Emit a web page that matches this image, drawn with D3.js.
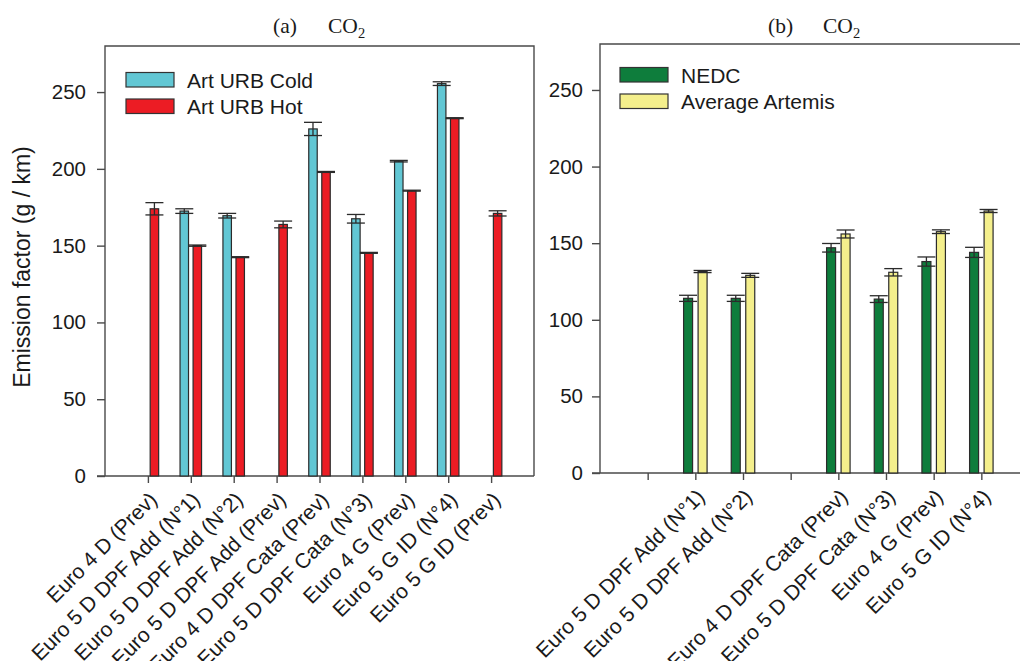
<!DOCTYPE html>
<html>
<head>
<meta charset="utf-8">
<script src="https://cdn.jsdelivr.net/npm/d3@7"></script>
<style>
  html, body { margin: 0; padding: 0; background: #fff; }
  svg { display: block; }
  text { font-family: "Liberation Sans", Arial, sans-serif; fill: #1a1a1a; }
</style>
</head>
<body>
<div id="chart"></div>
<script>
// panel (a) data
const leftCats = ["Euro 4 D (Prev)", "Euro 5 D DPF Add (N°1)", "Euro 5 D DPF Add (N°2)", "Euro 5 D DPF Add (Prev)",
    "Euro 4 D DPF Cata (Prev)", "Euro 5 D DPF Cata (N°3)", "Euro 4 G (Prev)", "Euro 5 G ID (N°4)", "Euro 5 G ID (Prev)"];
const coldVals = [null, 172.5, 169.5, null, 226, 167.5, 205, 255.5, null];
const coldErr  = [null, 1.5, 1.5, null, 4.3, 2.8, 0.5, 1.2, null];
const hotVals  = [174, 150, 142.5, 163.8, 198, 145.3, 185.8, 233, 171];
const hotErr   = [4, 0.4, 0.3, 2.2, 0.3, 0.3, 0.3, 0.3, 1.7];

// panel (b) data
const rightCats = ["", "Euro 5 D DPF Add (N°1)", "Euro 5 D DPF Add (N°2)", "",
    "Euro 4 D DPF Cata (Prev)", "Euro 5 D DPF Cata (N°3)", "Euro 4 G (Prev)", "Euro 5 G ID (N°4)"];
const nedcVals = [null, 114, 114, null, 147, 113.5, 138, 144];
const nedcErr  = [null, 2, 2, null, 2.8, 2.2, 3, 3.3];
const artVals  = [null, 131.5, 129, null, 156, 131, 157.5, 171];
const artErr   = [null, 0.7, 1.3, null, 2.6, 2.4, 1.2, 1];

const yTicks = [0, 50, 100, 150, 200, 250];

const W = 1020, H = 661;
const svg = d3.select("#chart").append("svg").attr("width", W).attr("height", H);

function drawPanel(o) {
    const g = svg.append("g");
    const x = d3.scalePoint().domain(d3.range(o.cats.length)).range([o.left, o.right]).padding(1);
    const y = d3.scaleLinear().domain([0, 280]).range([o.bottom, o.top]);
    const sub = d3.scaleBand().domain([0, 1]).range([-o.half, o.half]).paddingInner(o.pad);

    // frame
    g.append("path")
        .attr("d", `M${o.left},${o.bottom}V${o.top}H${o.right}V${o.bottom}`)
        .attr("fill", "none").attr("stroke", "#4a4a4a").attr("stroke-width", 1.4);
    g.append("line").attr("x1", o.left - 8).attr("x2", o.right).attr("y1", o.bottom).attr("y2", o.bottom)
        .attr("stroke", "#4a4a4a").attr("stroke-width", 1.4);

    // y axis
    const ya = g.append("g").attr("transform", `translate(${o.left},0)`)
        .call(d3.axisLeft(y).tickValues(yTicks).tickSize(8).tickPadding(o.tickPad));
    ya.select(".domain").remove();
    ya.selectAll("line").attr("stroke", "#4a4a4a").attr("stroke-width", 1.4);
    ya.selectAll("text").attr("font-size", 20.5).attr("fill", "#1a1a1a")
        .style("font-family", '"Liberation Sans", Arial, sans-serif');

    // x axis
    const xa = g.append("g").attr("transform", `translate(0,${o.bottom})`)
        .call(d3.axisBottom(x).tickSize(7).tickFormat(i => o.cats[i]));
    xa.select(".domain").remove();
    xa.selectAll("line").attr("stroke", "#4a4a4a").attr("stroke-width", 1.4);
    xa.selectAll("text").attr("font-size", 21).attr("fill", "#1a1a1a")
        .style("font-family", '"Liberation Sans", Arial, sans-serif')
        .attr("x", 0).attr("y", 0).attr("dy", 0)
        .attr("text-anchor", "end")
        .attr("transform", "translate(10,25) rotate(-45)");

    // bars + error bars
    o.series.forEach((s, k) => {
        const items = s.vals.map((v, i) => ({i, v, e: s.errs[i]})).filter(d => d.v != null);
        const cx = d => x(d.i) + sub(k) + sub.bandwidth() / 2;
        g.append("g").selectAll("rect").data(items).join("rect")
            .attr("x", d => x(d.i) + sub(k))
            .attr("width", sub.bandwidth())
            .attr("y", d => y(d.v))
            .attr("height", d => y(0) - y(d.v))
            .attr("fill", s.color).attr("stroke", "#2b2b2b").attr("stroke-width", 1.2);
        const eb = g.append("g").attr("stroke", "#2b2b2b").attr("stroke-width", 1.3);
        eb.selectAll(".v").data(items).join("line").attr("class", "v")
            .attr("x1", cx).attr("x2", cx)
            .attr("y1", d => y(d.v + d.e)).attr("y2", d => y(d.v - d.e));
        [1, -1].forEach(sg => {
            eb.selectAll(".c" + sg).data(items).join("line").attr("class", "c" + sg)
                .attr("x1", d => cx(d) - 9).attr("x2", d => cx(d) + 9)
                .attr("y1", d => y(d.v + sg * d.e)).attr("y2", d => y(d.v + sg * d.e));
        });
    });

    // legend
    const lg = g.append("g").attr("transform", `translate(${o.legX},${o.legY})`);
    o.series.forEach((s, k) => {
        lg.append("rect").attr("x", 0).attr("y", k * 26.5).attr("width", 48).attr("height", 14.5)
            .attr("fill", s.color).attr("stroke", "#333").attr("stroke-width", 1.2);
        lg.append("text").attr("x", 61).attr("y", k * 26.5 + 7.5).attr("dy", "0.36em")
            .attr("font-size", 21).text(s.name);
    });

    // title
    const t = g.append("text").attr("y", 33)
        .style("font-family", '"Liberation Serif", "Times New Roman", serif').attr("font-size", 21.5);
    t.append("tspan").attr("x", o.titleX).text(o.tag);
    t.append("tspan").attr("x", o.titleX + 55).text("CO");
    t.append("tspan").attr("font-size", 14.5).attr("dy", 5).text("2");
    return g;
}

drawPanel({
    cats: leftCats, left: 105, right: 534, top: 46, bottom: 476, half: 10.75, pad: 0.35, tickPad: 11,
    series: [
        {name: "Art URB Cold", vals: coldVals, errs: coldErr, color: "#62c7d4"},
        {name: "Art URB Hot", vals: hotVals, errs: hotErr, color: "#ec1c24"}
    ],
    legX: 126, legY: 72.5, titleX: 273, tag: "(a)"
});

drawPanel({
    cats: rightCats, left: 600, right: 1029, top: 44, bottom: 473, half: 11.75, pad: 0.38, tickPad: 9,
    series: [
        {name: "NEDC", vals: nedcVals, errs: nedcErr, color: "#0e7d3c"},
        {name: "Average Artemis", vals: artVals, errs: artErr, color: "#f4ef8c"}
    ],
    legX: 620, legY: 67.5, titleX: 768, tag: "(b)"
});

// y axis label
svg.append("text").attr("transform", "translate(30,267) rotate(-90)")
    .attr("text-anchor", "middle").attr("font-size", 23).text("Emission factor (g / km)");
</script>
</body>
</html>
